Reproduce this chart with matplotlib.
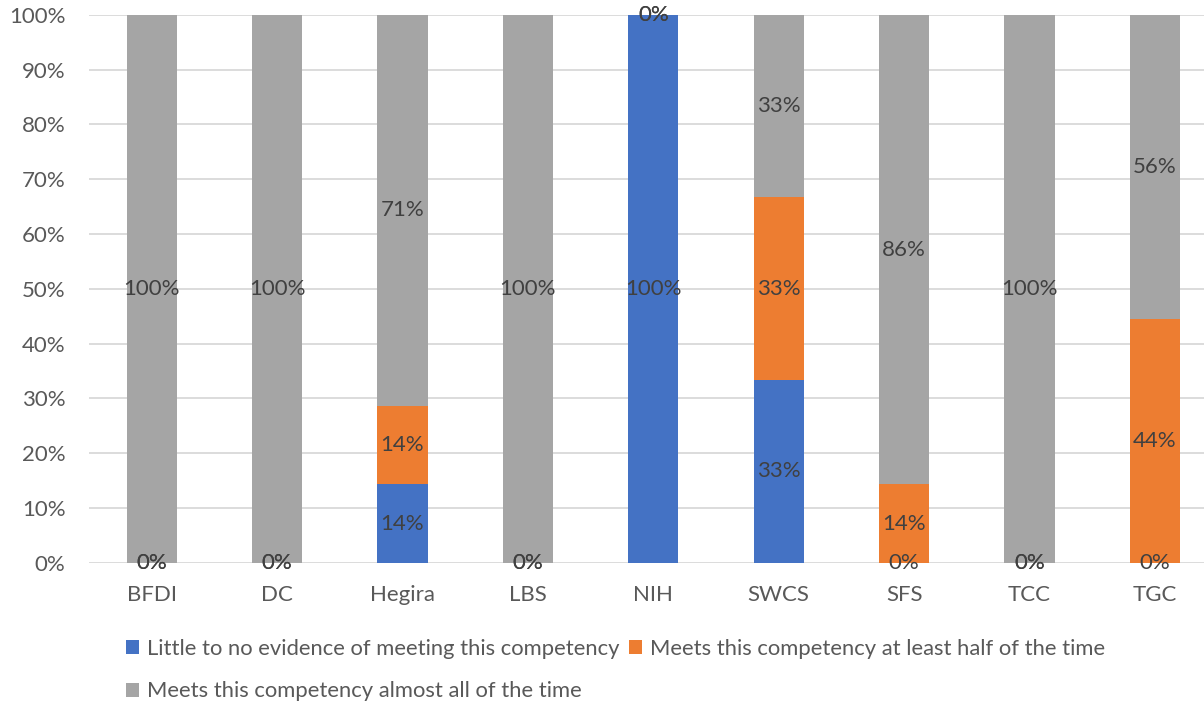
import matplotlib
matplotlib.use("Agg")
import matplotlib.pyplot as plt
import numpy as np

plt.rcParams['font.family'] = ['Lato', 'DejaVu Sans']

programs = ["BFDI", "DC", "Hegira", "LBS", "NIH", "SWCS", "SFS", "TCC", "TGC"]
series_names = [
    "Little to no evidence of meeting this competency",
    "Meets this competency at least half of the time",
    "Meets this competency almost all of the time",
]
# share of ratings in each band, percent
little = [0, 0, 14.29, 0, 100, 33.33, 0, 0, 0]
half = [0, 0, 14.29, 0, 0, 33.33, 14.29, 0, 44.44]
almost_all = [100, 100, 71.43, 100, 0, 33.33, 85.71, 100, 55.56]
colors = ["#4472C4", "#ED7D31", "#A5A5A5"]

fig = plt.figure(figsize=(12.04, 7.05), dpi=100)
ax = fig.add_axes([89 / 1204, 142.3 / 705, 1128.6 / 1204, 548 / 705])

x = np.arange(len(programs))
bottom = np.zeros(len(programs))
handles = []
for vals, color, name in zip([little, half, almost_all], colors, series_names):
    vals = np.array(vals, dtype=float)
    h = ax.bar(x, vals, 0.4, bottom=bottom, color=color, label=name, zorder=2)
    handles.append(h)
    for xi, b, v in zip(x, bottom, vals):
        ax.text(xi, b + v / 2, f"{v:.0f}%", ha="center", va="center",
                fontsize=16, color="#404040", zorder=3)
    bottom += vals

ax.set_xlim(-0.5, len(programs) - 0.5)
ax.set_ylim(0, 100)
ax.set_yticks(np.arange(0, 101, 10))
ax.set_yticklabels([f"{t}%" for t in range(0, 101, 10)])
ax.set_xticks(x)
ax.set_xticklabels(programs)
ax.tick_params(axis="both", length=0, labelsize=16, colors="#595959")
ax.tick_params(axis="y", pad=17)
ax.tick_params(axis="x", pad=16)
ax.grid(axis="y", color="#D9D9D9", linewidth=1.3, zorder=0)
ax.set_axisbelow(True)
for s in ax.spines.values():
    s.set_visible(False)

leg = fig.legend([handles[0], handles[2], handles[1]],
                 [series_names[0], series_names[2], series_names[1]],
                 ncol=2, loc="upper left", bbox_to_anchor=(126 / 1204, 1 - 639 / 705),
                 frameon=False, fontsize=15.8, handlelength=0.6, handleheight=0.6,
                 handletextpad=0.35, columnspacing=0.45, labelspacing=1.02,
                 labelcolor="#595959", borderaxespad=0, borderpad=0)

fig.savefig("out.png", dpi=100)
